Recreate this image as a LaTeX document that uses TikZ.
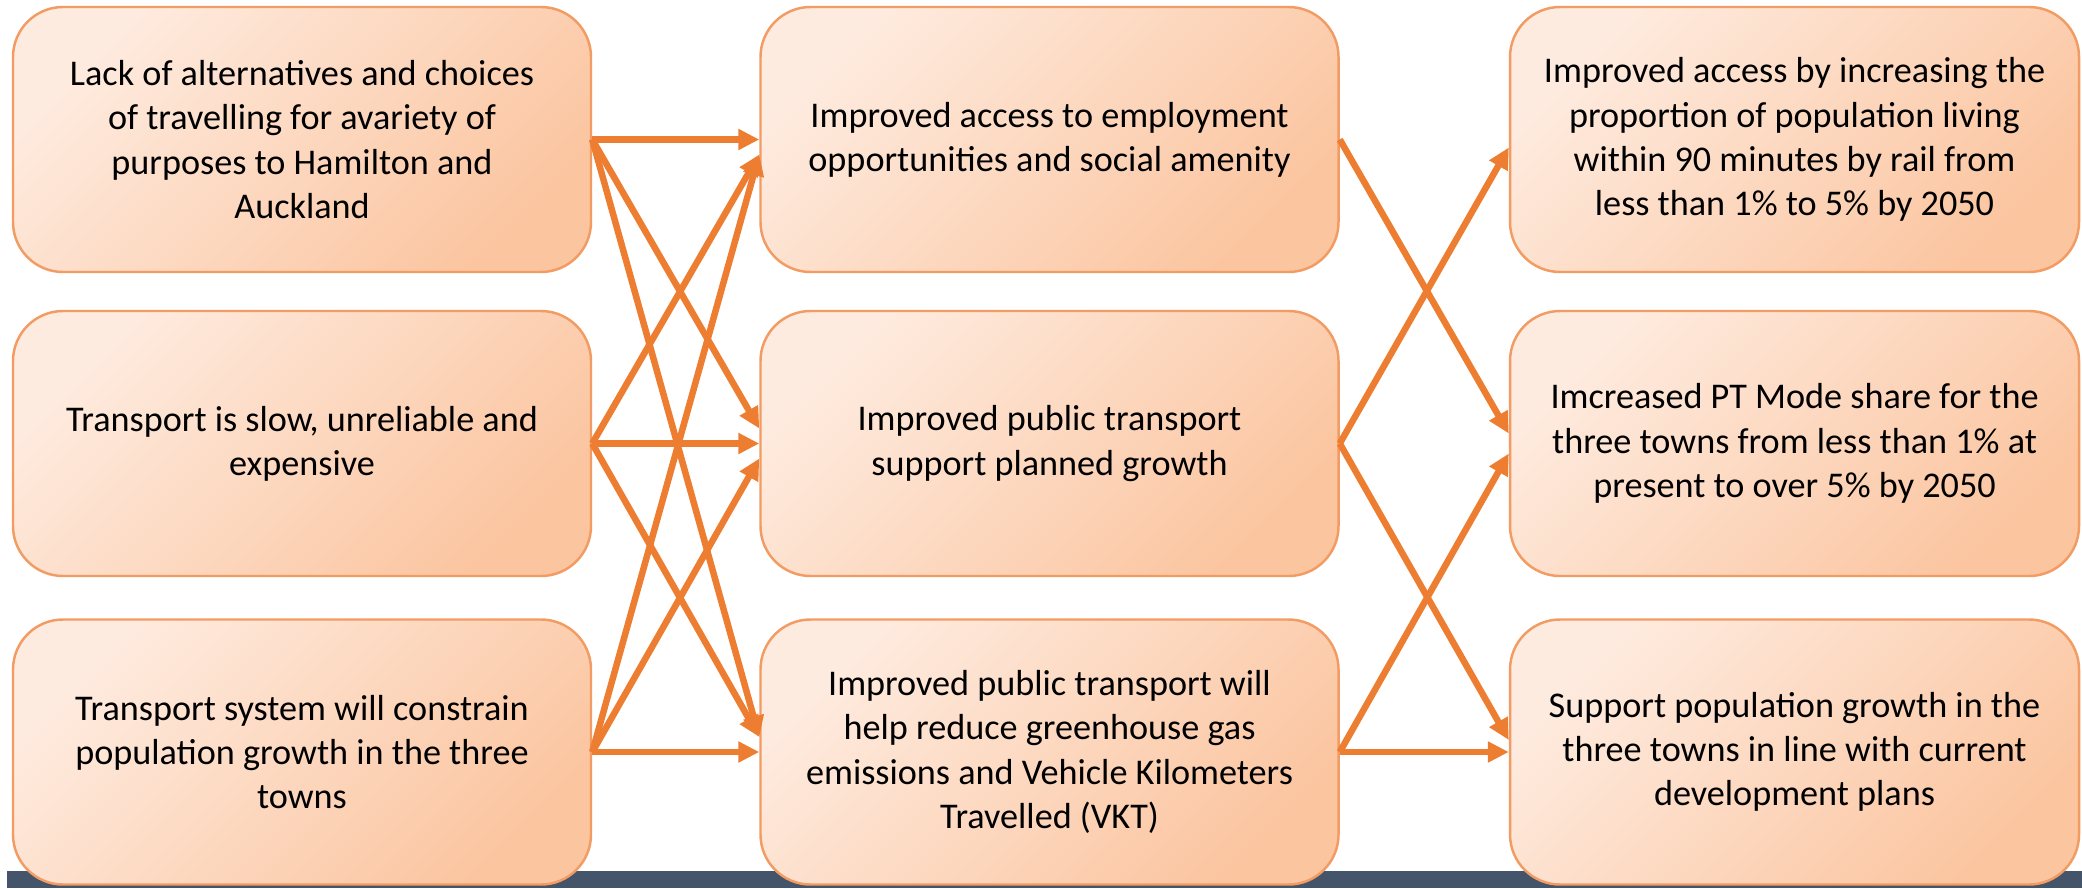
\documentclass[tikz,border=0pt]{standalone}
\usepackage{fontspec}
\setmainfont{Carlito}
\usepackage{xcolor}
\usepackage{tikz}
\usetikzlibrary{arrows.meta}
\definecolor{boxLight}{HTML}{FEEBDF}
\definecolor{boxDark}{HTML}{FBC5A0}
\definecolor{boxBorder}{HTML}{F29B62}
\definecolor{arrowColor}{HTML}{ED7D31}
\definecolor{barColor}{HTML}{44546A}
\colorlet{textColor}{black}

\begin{document}
\begin{tikzpicture}[
    outcomebox/.style={
      draw=boxBorder,
      line width=0.7pt,
      rounded corners=0.5cm,
      top color=boxLight,
      bottom color=boxDark,
      shading angle=45,
      minimum width=5.78cm,
      minimum height=2.65cm,
      align=center,
      text=textColor,
      font=\fontsize{10.3}{12.6}\selectfont,
    },
    link/.style={
      color=arrowColor,
      line width=0.065cm,
      -{Triangle[length=0.21cm, width=0.2cm]},
    },
  ]
    \useasboundingbox (0, 0) rectangle (20.82, 8.88);
    \fill[barColor] (0.07, 0) rectangle (20.82, 0.17);

    \node[outcomebox] (problemA) at (3.02, 7.485) {%
      Lack of alternatives and choices\\of travelling for avariety of\\purposes to Hamilton and\\Auckland
    };
    \node[outcomebox] (problemB) at (3.02, 4.445) {%
      Transport is slow, unreliable and\\expensive
    };
    \node[outcomebox] (problemC) at (3.02, 1.36) {%
      Transport system will constrain\\population growth in the three\\towns
    };

    \node[outcomebox] (benefitA) at (10.495, 7.485) {%
      Improved access to employment\\opportunities and social amenity
    };
    \node[outcomebox] (benefitB) at (10.495, 4.445) {%
      Improved public transport\\support planned growth
    };
    \node[outcomebox] (benefitC) at (10.495, 1.36) {%
      Improved public transport will\\help reduce greenhouse gas\\emissions and Vehicle Kilometers\\Travelled (VKT)
    };

    \node[outcomebox, minimum width=5.69cm] (targetA) at (17.945, 7.485) {%
      Improved access by increasing the\\proportion of population living\\within 90 minutes by rail from\\less than 1\% to 5\% by 2050
    };
    \node[outcomebox, minimum width=5.69cm] (targetB) at (17.945, 4.445) {%
      Imcreased PT Mode share for the\\three towns from less than 1\% at\\present to over 5\% by 2050
    };
    \node[outcomebox, minimum width=5.69cm] (targetC) at (17.945, 1.36) {%
      Support population growth in the\\three towns in line with current\\development plans
    };

    \draw[link] (problemA.east) -- (benefitA.west);
    \draw[link] (problemA.east) -- ([yshift=0.15cm]benefitB.west);
    \draw[link] (problemA.east) -- ([yshift=0.15cm]benefitC.west);
    \draw[link] (problemB.east) -- ([yshift=-0.15cm]benefitA.west);
    \draw[link] (problemB.east) -- (benefitB.west);
    \draw[link] (problemB.east) -- ([yshift=0.15cm]benefitC.west);
    \draw[link] (problemC.east) -- ([yshift=-0.15cm]benefitA.west);
    \draw[link] (problemC.east) -- ([yshift=-0.15cm]benefitB.west);
    \draw[link] (problemC.east) -- (benefitC.west);

    \draw[link] (benefitA.east) -- ([yshift=0.1cm]targetB.west);
    \draw[link] (benefitB.east) -- ([yshift=-0.08cm]targetA.west);
    \draw[link] (benefitB.east) -- ([yshift=0.12cm]targetC.west);
    \draw[link] (benefitC.east) -- ([yshift=-0.1cm]targetB.west);
    \draw[link] (benefitC.east) -- (targetC.west);
  \end{tikzpicture}
\end{document}
